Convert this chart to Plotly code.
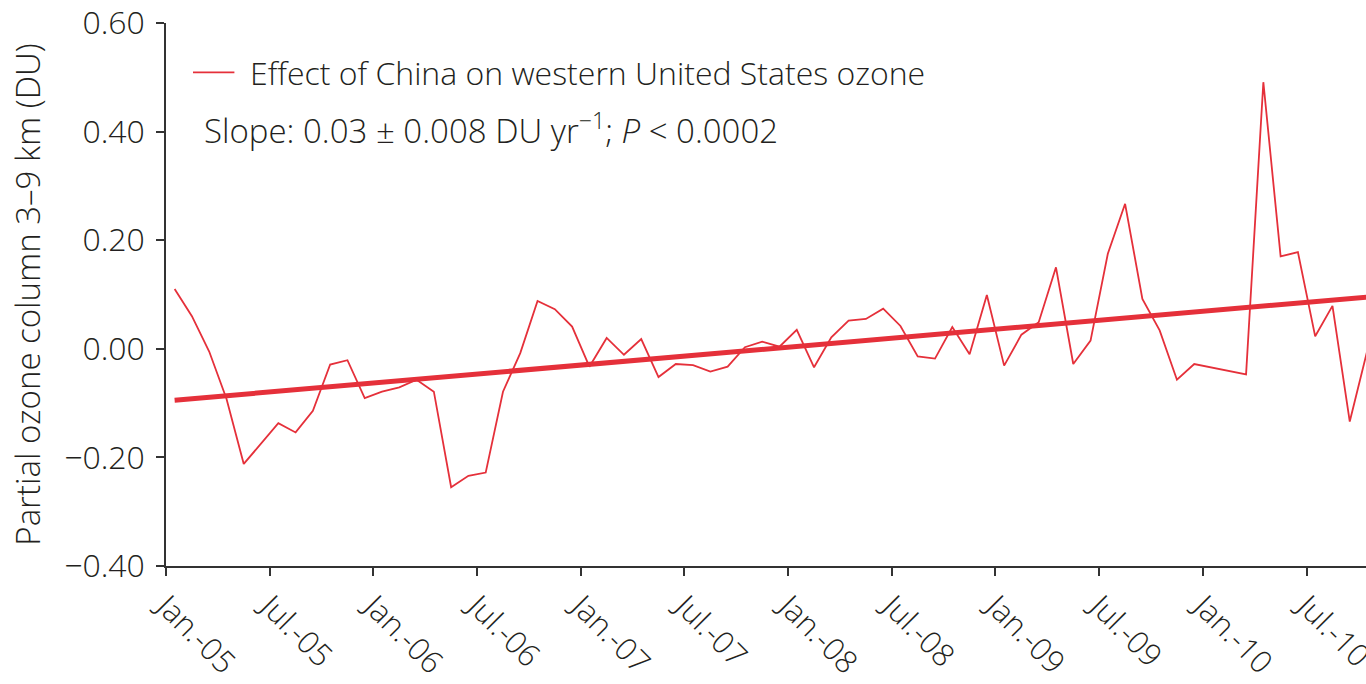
import plotly.graph_objects as go

# Monthly mean effect of Chinese emissions on western US partial ozone column (3-9 km), DU
# One value per month from Jan 2005; None marks months without a value.
ozone_effect = [
    0.110, 0.060, -0.005, -0.092, -0.212, -0.175, -0.137, -0.154, -0.114, -0.029,
    -0.021, -0.091, -0.079, -0.071, -0.057, -0.079, -0.255, -0.234, -0.228, -0.079,
    -0.008, 0.088, 0.073, 0.041, -0.033, 0.020, -0.011, 0.018, -0.052, -0.028,
    -0.030, -0.042, -0.033, 0.003, 0.013, 0.004, 0.035, -0.034, 0.021, 0.052,
    0.055, 0.074, 0.042, -0.014, -0.018, 0.040, -0.010, 0.099, -0.031, 0.026,
    0.049, 0.150, -0.028, 0.015, 0.175, 0.267, 0.092, 0.034, -0.057, -0.028,
    None, None, -0.047, 0.491, 0.170, 0.178, 0.023, 0.079, -0.134, -0.005,
]

# Linear trend: value at Jan 2005 and slope in DU per year
trend_intercept = -0.096
trend_slope_per_year = 0.033

tick_labels = [
    "Jan.-05", "Jul.-05", "Jan.-06", "Jul.-06", "Jan.-07", "Jul.-07",
    "Jan.-08", "Jul.-08", "Jan.-09", "Jul.-09", "Jan.-10", "Jul.-10",
]

y_ticks = [-0.40, -0.20, 0.00, 0.20, 0.40, 0.60]

series_name = "Effect of China on western United States ozone"
slope_text = "Slope: 0.03 ± 0.008 DU yr<sup>−1</sup>; <i>P</i> &lt; 0.0002"

# x is measured in months since 1 Jan 2005; monthly values sit mid-month
months = [i + 0.5 for i in range(len(ozone_effect))]
tick_positions = [6 * i for i in range(len(tick_labels))]
trend_x = [months[0], 70.0]
trend_y = [trend_intercept + trend_slope_per_year * m / 12.0 for m in trend_x]

RED = "#e5303a"
TEXT = "#231f20"
AXIS = "#333333"
FONT = "Open Sans"
WEIGHT = 300
SIZE = 32


def font(size=SIZE):
    return dict(family=FONT, size=size, color=TEXT, weight=WEIGHT)


fig = go.Figure()

fig.add_trace(go.Scatter(
    x=months, y=ozone_effect, mode="lines",
    line=dict(color=RED, width=1.8),
    connectgaps=True, name=series_name, showlegend=False,
))

fig.add_trace(go.Scatter(
    x=trend_x, y=trend_y, mode="lines",
    line=dict(color=RED, width=5),
    showlegend=False, hoverinfo="skip",
))

# Legend key: short red line followed by the series name
fig.add_shape(
    type="line", xref="paper", yref="paper",
    x0=0.0225, x1=0.057, y0=0.909, y1=0.909,
    line=dict(color=RED, width=1.8),
)
fig.add_annotation(
    xref="paper", yref="paper", x=0.068, y=0.909,
    xanchor="left", yanchor="middle", showarrow=False,
    text=series_name, font=font(),
)

fig.add_annotation(
    xref="paper", yref="paper", x=0.03, y=0.806,
    xanchor="left", yanchor="middle", showarrow=False,
    text=slope_text, font=font(33),
)

fig.update_layout(
    width=1366, height=684,
    margin=dict(l=166, r=0, t=23, b=118),
    paper_bgcolor="white", plot_bgcolor="white",
    font=font(),
    showlegend=False,
    xaxis=dict(
        range=[0, 69.44], automargin=False,
        tickmode="array", tickvals=tick_positions, ticktext=tick_labels,
        tickangle=45, ticks="outside", ticklen=8, tickwidth=1.5, tickcolor=AXIS,
        showline=True, linecolor=AXIS, linewidth=1.5,
        showgrid=False, zeroline=False, ticklabeloverflow="allow",
        tickfont=font(31),
    ),
    yaxis=dict(
        range=[-0.40, 0.60], automargin=False,
        tickmode="array", tickvals=y_ticks, tickformat=".2f",
        ticks="outside", ticklen=8, tickwidth=1.5, tickcolor=AXIS,
        showline=True, linecolor=AXIS, linewidth=1.5,
        showgrid=False, zeroline=False, ticklabelstandoff=5,
        tickfont=font(),
        title=dict(text="Partial ozone column 3–9 km (DU)",
                   font=font(33), standoff=14),
    ),
)

fig.write_html("out.html")
